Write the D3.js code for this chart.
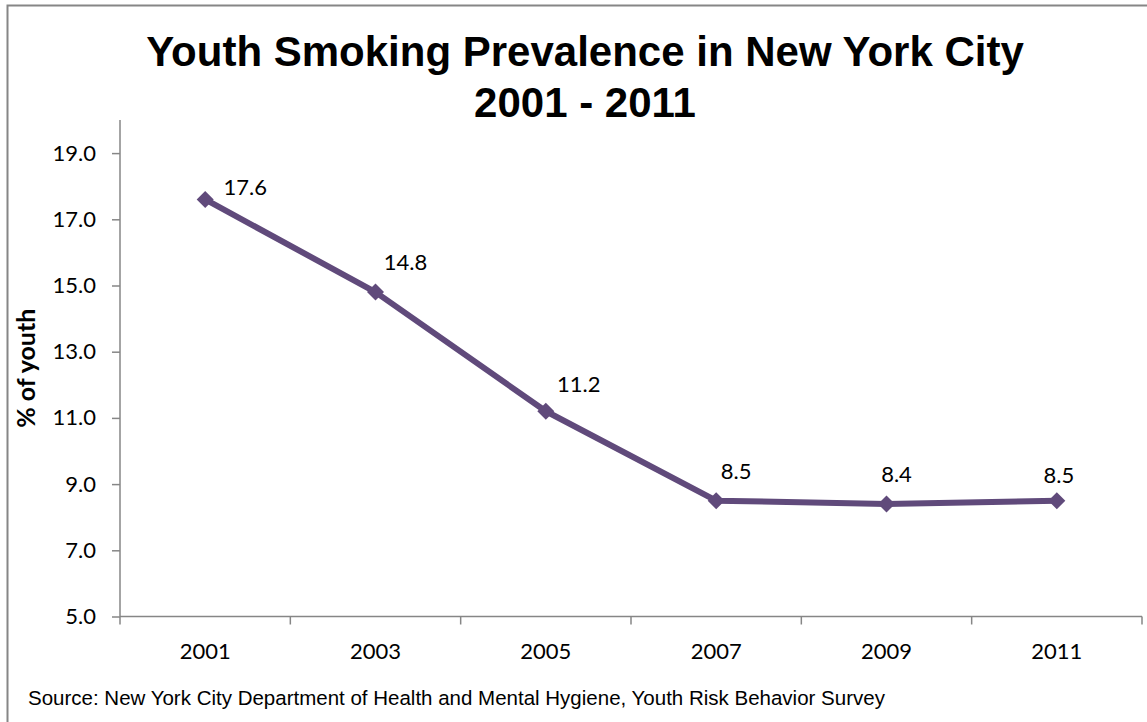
<!DOCTYPE html>
<html>
<head>
<meta charset="utf-8">
<script src="https://cdn.jsdelivr.net/npm/d3@7"></script>
<style>
  html, body { margin: 0; padding: 0; background: #fff; }
  svg { display: block; }
</style>
</head>
<body>
<svg id="chart" width="1147" height="722"></svg>
<script>
// Survey years and smoking prevalence (% of youth)
const years = ["2001", "2003", "2005", "2007", "2009", "2011"];
const prevalence = [17.6, 14.8, 11.2, 8.5, 8.4, 8.5];
const yTicks = [5, 7, 9, 11, 13, 15, 17, 19];

const titleLines = ["Youth Smoking Prevalence in New York City", "2001 - 2011"];
const yAxisTitle = "% of youth";
const sourceNote = "Source: New York City Department of Health and Mental Hygiene, Youth Risk Behavior Survey";

const W = 1147, H = 722;
const margin = { left: 120, right: 5, top: 120, bottom: 105.5 };
const axisColor = "#868686";
const lineColor = "#604A7B";
const tickFont = "Lato, 'Open Sans', sans-serif";

const svg = d3.select("#chart");

// Outer chart frame
svg.append("rect")
  .attr("x", 7.5).attr("y", 5.5)
  .attr("width", W + 20).attr("height", H + 20)
  .attr("fill", "#fff")
  .attr("stroke", axisColor)
  .attr("stroke-width", 2);

const x = d3.scaleBand()
  .domain(years)
  .range([margin.left, W - margin.right])
  .paddingInner(0).paddingOuter(0);

const y = d3.scaleLinear()
  .domain([5, 20])
  .range([H - margin.bottom, margin.top]);

// Title
svg.append("g").selectAll("text")
  .data(titleLines)
  .join("text")
  .attr("x", 585)
  .attr("y", (d, i) => 66 + i * 51)
  .attr("text-anchor", "middle")
  .attr("font-family", "'Liberation Sans', Arial, sans-serif")
  .attr("font-weight", "bold")
  .attr("font-size", 42)
  .attr("fill", "#000")
  .text(d => d);

// Y axis
const yAxis = svg.append("g")
  .attr("transform", `translate(${margin.left},0)`)
  .call(d3.axisLeft(y).tickValues(yTicks).tickFormat(d3.format(".1f")).tickSize(8).tickPadding(16));
yAxis.select(".domain").attr("stroke", axisColor).attr("stroke-width", 1.5)
  .attr("d", `M-0,${y(20)}V${y(5)}`);
yAxis.selectAll(".tick line").attr("stroke", axisColor).attr("stroke-width", 1.5);
yAxis.selectAll(".tick text")
  .attr("font-family", tickFont)
  .attr("font-size", 22)
  .attr("fill", "#000");

// X axis with boundary ticks between categories
const xAxisG = svg.append("g")
  .attr("transform", `translate(0,${y(5)})`);
xAxisG.append("line")
  .attr("x1", x.range()[0]).attr("x2", x.range()[1])
  .attr("stroke", axisColor).attr("stroke-width", 1.5);
const boundaries = years.map(d => x(d)).concat([x.range()[1]]);
xAxisG.selectAll("line.bound")
  .data(boundaries)
  .join("line")
  .attr("class", "bound")
  .attr("x1", d => d).attr("x2", d => d)
  .attr("y1", 0).attr("y2", 8)
  .attr("stroke", axisColor).attr("stroke-width", 1.5);
xAxisG.selectAll("text")
  .data(years)
  .join("text")
  .attr("x", d => x(d) + x.bandwidth() / 2)
  .attr("y", 42)
  .attr("text-anchor", "middle")
  .attr("font-family", tickFont)
  .attr("font-size", 22)
  .attr("fill", "#000")
  .text(d => d);

// Y axis title
svg.append("text")
  .attr("transform", `translate(35,${(y(5) + y(20)) / 2}) rotate(-90)`)
  .attr("text-anchor", "middle")
  .attr("font-family", tickFont)
  .attr("font-weight", "bold")
  .attr("font-size", 25)
  .attr("fill", "#000")
  .text(yAxisTitle);

// Series line
const pts = years.map((d, i) => ({ year: d, value: prevalence[i] }));
const cx = d => x(d.year) + x.bandwidth() / 2;
svg.append("path")
  .datum(pts)
  .attr("fill", "none")
  .attr("stroke", lineColor)
  .attr("stroke-width", 6)
  .attr("stroke-linejoin", "round")
  .attr("d", d3.line().x(cx).y(d => y(d.value)));

// Diamond markers
const r = 8.5;
svg.append("g").selectAll("path")
  .data(pts)
  .join("path")
  .attr("transform", d => `translate(${cx(d)},${y(d.value)})`)
  .attr("d", `M0,${-r}L${r},0L0,${r}L${-r},0Z`)
  .attr("fill", lineColor);

// Value labels, each nudged up and to the right of its marker
const labelNudge = [[40, -4], [30, -22], [33, -19], [20, -22], [10, -22], [2, -18]];
svg.append("g").selectAll("text")
  .data(pts)
  .join("text")
  .attr("x", (d, i) => cx(d) + labelNudge[i][0])
  .attr("y", (d, i) => y(d.value) + labelNudge[i][1])
  .attr("text-anchor", "middle")
  .attr("font-family", tickFont)
  .attr("font-size", 22)
  .attr("fill", "#000")
  .text(d => d3.format(".1f")(d.value));

// Source note
svg.append("text")
  .attr("x", 28).attr("y", 705)
  .attr("font-family", "'Liberation Sans', Arial, sans-serif")
  .attr("font-size", 20.5)
  .attr("fill", "#000")
  .text(sourceNote);
</script>
</body>
</html>
